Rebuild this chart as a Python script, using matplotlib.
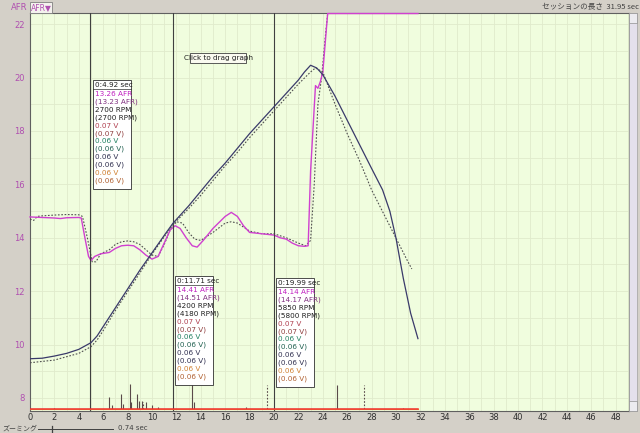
import matplotlib
matplotlib.use('Agg')
import matplotlib.pyplot as plt
from matplotlib.patches import Rectangle

plt.rcParams['font.family'] = ['DejaVu Sans', 'Noto Sans CJK JP']

# AFR, run 1 (solid) and run 2 (dotted)
afr_t = [0, 1, 2, 2.5, 3, 4, 4.2, 4.5, 4.8, 5.0, 5.3, 5.8, 6.5, 7.0, 7.5, 8.0, 8.5, 9.0, 9.5, 10.0,
         10.5, 11.0, 11.5, 11.9, 12.3, 12.8, 13.3, 13.7, 14.2, 15.0, 16.0, 16.5, 17.0, 17.5, 18.0,
         19.0, 20.0, 20.5, 21.0, 21.5, 22.0, 22.5, 22.8, 23.0, 23.4, 23.6, 23.8, 24.0, 24.4, 31.8]
afr_v = [14.78, 14.76, 14.74, 14.72, 14.75, 14.76, 14.74, 14.0, 13.3, 13.15, 13.3, 13.4, 13.45,
         13.6, 13.7, 13.72, 13.7, 13.55, 13.35, 13.2, 13.3, 13.8, 14.3, 14.45, 14.35, 14.0, 13.7,
         13.65, 13.9, 14.35, 14.8, 14.95, 14.8, 14.45, 14.2, 14.15, 14.1, 14.0, 13.95, 13.8, 13.7,
         13.68, 13.7, 16.5, 19.7, 19.6, 19.85, 20.2, 22.4, 22.4]
afr2_t = [0, 0.3, 0.6, 1, 2, 3, 4, 4.3, 4.7, 5.1, 5.4, 5.8, 6.5, 7.0, 7.5, 8.0, 8.5, 9.0, 9.5, 10.0,
          10.5, 11.0, 11.5, 12.0, 12.5, 13.0, 13.5, 14.0, 15.0, 16.0, 16.5, 17.0, 18.0, 19.0, 20.0,
          21.0, 22.0, 22.6, 23.0, 23.3, 23.6, 23.9, 24.2, 24.4]
afr2_v = [14.7, 14.65, 14.8, 14.82, 14.85, 14.87, 14.86, 14.8, 14.0, 13.1, 13.1, 13.4, 13.55, 13.75,
          13.85, 13.88, 13.85, 13.75, 13.55, 13.35, 13.3, 13.75, 14.3, 14.6, 14.55, 14.2, 13.95,
          13.9, 14.2, 14.55, 14.6, 14.55, 14.25, 14.15, 14.15, 14.0, 13.8, 13.7, 13.9, 16.0, 19.0,
          20.0, 21.5, 22.4]

# RPM, run 1 and run 2
rpm_t = [0, 1, 2, 3, 4, 5, 5.5, 6, 7, 8, 9, 10, 11, 11.71, 13, 14, 15, 16, 17, 18, 19, 20, 21, 22,
         22.5, 23, 23.5, 24, 25, 26, 27, 28, 28.9, 29.5, 30, 30.6, 31.2, 31.8]
rpm_v = [2502, 2509, 2538, 2574, 2628, 2718, 2808, 2934, 3186, 3438, 3690, 3924, 4158, 4320, 4554,
         4752, 4950, 5130, 5328, 5526, 5706, 5886, 6066, 6246, 6354, 6444, 6408, 6318, 6030, 5706,
         5382, 5058, 4770, 4482, 4122, 3582, 3114, 2772]
rpm2_t = [0, 2, 4, 5, 5.5, 6, 7, 8, 9, 10, 11, 11.71, 13, 14, 15, 16, 17, 18, 19, 20, 21, 22, 23,
          23.4, 24, 25, 26, 27, 28, 29, 30, 31, 31.3]
rpm2_v = [2448, 2484, 2574, 2664, 2754, 2880, 3150, 3402, 3654, 3906, 4140, 4302, 4518, 4698, 4896,
          5094, 5274, 5472, 5652, 5832, 6012, 6192, 6354, 6408, 6354, 5922, 5526, 5166, 4770, 4446,
          4122, 3798, 3708]

# sensor voltage baseline and spikes
volt_t = [0, 31.8]
volt_red = [0.07, 0.07]
volt_orange = [0.06, 0.06]
spike_t = [2.0, 6.5, 6.7, 7.5, 7.6, 8.2, 8.3, 8.8, 8.95, 9.2, 9.5, 10.0, 10.5, 13.3, 13.45, 17.7,
           25.2, 30.6]
spike_v = [0.12, 0.5, 0.2, 0.6, 0.25, 0.95, 0.3, 0.6, 0.35, 0.35, 0.3, 0.2, 0.15, 1.0, 0.3, 0.15,
           0.9, 0.12]
spike2_t = [9.3, 19.4, 27.4]
spike2_v = [0.3, 0.92, 0.92]

# cursors
cursor_t = [4.92, 11.71, 19.99]
cursor_head = ['0:4.92 sec', '0:11.71 sec', '0:19.99 sec']
cursor_afr = ['13.26 AFR', '14.41 AFR', '14.14 AFR']
cursor_afr2 = ['(13.23 AFR)', '(14.51 AFR)', '(14.17 AFR)']
cursor_rpm = ['2700 RPM', '4200 RPM', '5850 RPM']
cursor_rpm2 = ['(2700 RPM)', '(4180 RPM)', '(5800 RPM)']
cursor_box_px = [(93, 80), (175, 276), (276, 278)]

x_ticks = list(range(0, 50, 2))
y_ticks = list(range(8, 24, 2))

W, H = 640, 433


# pixel -> figure fraction
def fx(px):
	return px / W

def fy(py):
	return 1 - py / H


def draw_box(fig, px, py, lines, colors):
	w = 38
	lh = 7.9
	h = 6 + lh * len(lines)
	fig.patches.append(Rectangle((fx(px), fy(py + h)), w / W, h / H, transform=fig.transFigure,
		facecolor='white', edgecolor='#303030', lw=0.6, zorder=5))
	fig.add_artist(plt.Line2D([fx(px), fx(px + w)], [fy(py + 9), fy(py + 9)], color='#303030', lw=0.5, zorder=6))
	for i in range(len(lines)):
		off = 0 if i == 0 else 1
		fig.text(fx(px + 2), fy(py + 5 + off + lh * i), lines[i], color=colors[i], fontsize=5.2,
			va='center', ha='left', zorder=7)


def main():
	fig = plt.figure(figsize=(6.4, 4.33), dpi=100)
	fig.patch.set_facecolor('#d4d0c8')
	ax = fig.add_axes([fx(30), fy(411), (629 - 30) / W, (411 - 13) / H])
	ax.set_facecolor('#f0fdde')
	ax.set_xlim(0, 49.1)
	ax.set_ylim(7.51, 22.42)

	ax.set_xticks(x_ticks)
	ax.set_yticks(y_ticks)
	ax.set_xticks([i for i in range(0, 50)], minor=True)
	ax.set_yticks([i for i in range(8, 23)], minor=True)
	ax.grid(which='both', color='#e0eacc', lw=0.6)
	ax.set_axisbelow(True)
	ax.tick_params(which='both', length=0)
	ax.tick_params(axis='x', labelsize=6, labelcolor='#303030', pad=1.5)
	ax.tick_params(axis='y', labelsize=6, labelcolor='#b050b0', pad=4)
	for s in ax.spines.values():
		s.set_color('#606060')
		s.set_linewidth(0.8)

	for t in cursor_t:
		ax.axvline(t, color='#404040', lw=0.8, zorder=4)

	ax.plot(afr2_t, afr2_v, color='#505050', lw=0.8, ls=(0, (1.5, 1.5)), zorder=3)
	ax.plot(afr_t, afr_v, color='#d040d0', lw=1.0, zorder=3, clip_on=False)

	# RPM on its own hidden scale
	ax_rpm = ax.twinx()
	ax_rpm.set_ylim(1800, 7146)
	ax_rpm.axis('off')
	ax_rpm.plot(rpm2_t, rpm2_v, color='#505050', lw=0.8, ls=(0, (1.5, 1.5)))
	ax_rpm.plot(rpm_t, rpm_v, color='#3a3a6a', lw=0.9)

	# volts on its own hidden scale
	ax_v = ax.twinx()
	ax_v.set_ylim(0, 14)
	ax_v.axis('off')
	ax_v.vlines(spike_t, 0.07, spike_v, color='#5a4a4a', lw=0.8)
	ax_v.vlines(spike2_t, 0.07, spike2_v, color='#5a4a4a', lw=0.8, linestyles=(0, (1.5, 1.5)))
	ax_v.plot(volt_t, volt_orange, color='#f0a030', lw=0.8)
	ax_v.plot(volt_t, volt_red, color='#f03030', lw=1.1)

	# cursor readouts
	colors = ['#202020', '#c020c0', '#803080', '#202020', '#202020', '#b04050', '#904040',
		'#208060', '#206050', '#303050', '#303050', '#d08030', '#b06030']
	for i in range(len(cursor_t)):
		lines = [cursor_head[i], cursor_afr[i], cursor_afr2[i], cursor_rpm[i], cursor_rpm2[i],
			'0.07 V', '(0.07 V)', '0.06 V', '(0.06 V)', '0.06 V', '(0.06 V)', '0.06 V', '(0.06 V)']
		px, py = cursor_box_px[i]
		draw_box(fig, px, py, lines, colors)

	# "Click to drag graph"
	fig.patches.append(Rectangle((fx(190), fy(63)), 56 / W, 10 / H, transform=fig.transFigure,
		facecolor='#fafaf0', edgecolor='#404040', lw=0.6, zorder=5))
	fig.text(fx(218), fy(58), 'Click to drag graph', fontsize=5.2, color='#202020',
		ha='center', va='center', zorder=7)

	# header bits
	fig.text(fx(27), fy(7), 'AFR', fontsize=6, color='#b050b0', ha='right', va='center')
	fig.patches.append(Rectangle((fx(30), fy(13)), 22 / W, 11 / H, transform=fig.transFigure,
		facecolor='#f4f2ee', edgecolor='#808080', lw=0.6))
	fig.text(fx(41), fy(7.5), 'AFR▼', fontsize=5.5, color='#b050b0', ha='center', va='center')
	fig.text(fx(639), fy(7), 'セッションの長さ  31.95 sec', fontsize=5.5, color='#404040',
		ha='right', va='center', family=['Noto Sans CJK JP', 'DejaVu Sans'])

	# scrollbar
	fig.patches.append(Rectangle((fx(629), fy(411)), 8 / W, 398 / H, transform=fig.transFigure,
		facecolor='#e4e0ec', edgecolor='#a0a0a0', lw=0.5))
	for py in (13, 401):
		fig.patches.append(Rectangle((fx(629), fy(py + 10)), 8 / W, 10 / H, transform=fig.transFigure,
			facecolor='#ecebf0', edgecolor='#909090', lw=0.5))

	# zoom slider
	fig.text(fx(2), fy(428.5), 'ズーミング', fontsize=5, color='#404040', ha='left', va='center',
		family=['Noto Sans CJK JP', 'DejaVu Sans'])
	fig.add_artist(plt.Line2D([fx(38), fx(113)], [fy(428.5), fy(428.5)], color='#404040', lw=0.7))
	fig.add_artist(plt.Line2D([fx(52), fx(52)], [fy(425.5), fy(432)], color='#404040', lw=0.9))
	fig.text(fx(118), fy(428.5), '0.74 sec', fontsize=5, color='#404040', ha='left', va='center')

	fig.savefig('out.png', dpi=100, facecolor=fig.get_facecolor())


if __name__ == "__main__":
	main()
